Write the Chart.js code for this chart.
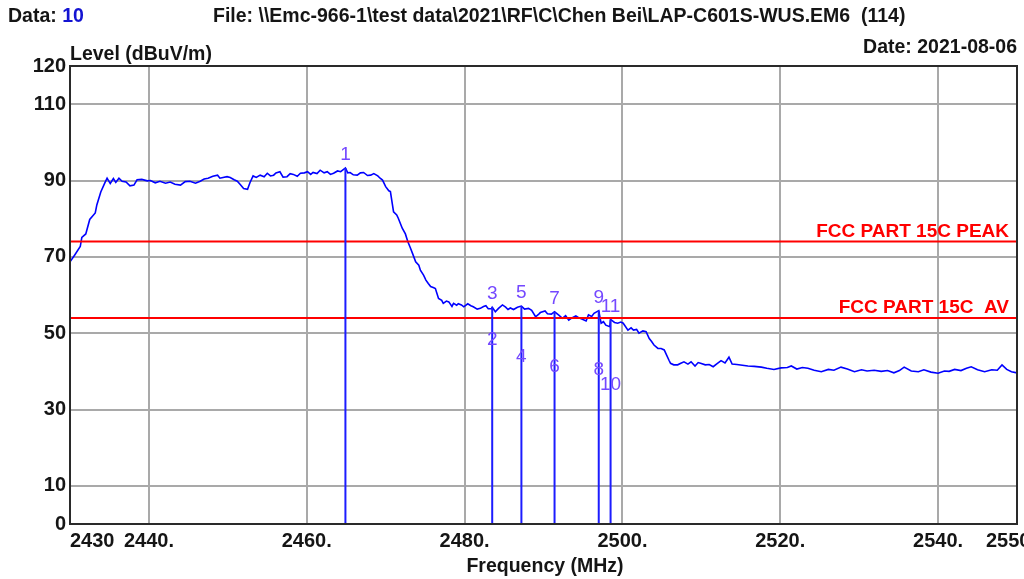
<!DOCTYPE html>
<html>
<head>
<meta charset="utf-8">
<script src="https://cdn.jsdelivr.net/npm/chart.js@4.4.1/dist/chart.umd.min.js"></script>
<style>
  html, body { margin: 0; padding: 0; background: #fff; }
  #wrap { width: 1024px; height: 579px; position: relative; }
</style>
</head>
<body>
<div id="wrap"><canvas id="c" width="1024" height="579"></canvas></div>
<script>
// Spectrum trace (MHz / dBuV/m)
const freq = [
  2430.0, 2430.6, 2431.3, 2431.5, 2432.0, 2432.5, 2433.2, 2433.4, 2433.9, 2434.4,
  2434.7, 2435.1, 2435.5, 2435.8, 2436.2, 2436.6, 2437.1, 2437.6, 2438.1, 2438.5,
  2439.1, 2439.8, 2440.2, 2440.8, 2441.4, 2442.1, 2442.7, 2443.3, 2444.0, 2444.6,
  2445.2, 2445.9, 2446.5, 2447.0, 2447.5, 2448.1, 2448.7, 2449.0, 2449.4, 2449.9,
  2450.3, 2450.8, 2451.2, 2451.6, 2452.0, 2452.5, 2452.8, 2453.2, 2453.6, 2454.1,
  2454.6, 2455.0, 2455.4, 2455.8, 2456.1, 2456.6, 2457.0, 2457.5, 2457.9, 2458.3,
  2458.8, 2459.2, 2459.7, 2460.1, 2460.5, 2460.8, 2461.3, 2461.7, 2462.2, 2462.6,
  2463.0, 2463.4, 2463.9, 2464.3, 2464.9, 2465.2, 2465.5, 2465.9, 2466.4, 2466.8,
  2467.2, 2467.7, 2468.1, 2468.5, 2469.0, 2469.3, 2469.6, 2470.0, 2470.4, 2470.6,
  2471.0, 2471.4, 2471.6, 2472.1, 2472.5, 2472.8, 2473.1, 2473.4, 2473.8, 2474.2,
  2474.4, 2474.8, 2475.1, 2475.4, 2475.7, 2476.1, 2476.3, 2476.7, 2477.1, 2477.3,
  2477.7, 2478.0, 2478.4, 2478.6, 2479.0, 2479.2, 2479.6, 2479.9, 2480.4, 2480.8,
  2481.1, 2481.6, 2482.0, 2482.4, 2482.7, 2483.0, 2483.4, 2483.5, 2483.9, 2484.3,
  2484.8, 2485.2, 2485.5, 2485.8, 2486.2, 2486.7, 2487.2, 2487.6, 2488.1, 2488.5,
  2489.0, 2489.4, 2489.6, 2490.2, 2490.5, 2491.0, 2491.4, 2491.9, 2492.4, 2492.8,
  2493.2, 2493.6, 2494.1, 2494.5, 2495.0, 2495.4, 2495.7, 2496.1, 2496.4, 2497.0,
  2497.3, 2497.6, 2497.9, 2498.4, 2498.5, 2499.0, 2499.4, 2499.8, 2500.1, 2500.7,
  2501.1, 2501.4, 2501.8, 2502.1, 2502.6, 2503.0, 2503.4, 2503.7, 2504.0, 2504.5,
  2504.9, 2505.3, 2505.5, 2505.9, 2506.1, 2506.5, 2507.0, 2507.4, 2507.8, 2508.3,
  2508.7, 2509.2, 2509.6, 2509.9, 2510.5, 2511.0, 2511.5, 2512.0, 2512.5, 2513.0,
  2513.5, 2513.9, 2514.5, 2515.2, 2515.9, 2516.7, 2517.6, 2518.3, 2519.2, 2520.1,
  2520.9, 2521.4, 2522.1, 2522.8, 2523.5, 2524.3, 2525.2, 2526.1, 2526.8, 2527.7,
  2528.5, 2529.4, 2530.3, 2531.0, 2531.9, 2532.8, 2533.6, 2534.4, 2535.1, 2535.7,
  2536.6, 2537.5, 2538.2, 2539.1, 2540.0, 2540.8, 2541.4, 2542.1, 2542.9, 2543.6,
  2544.2, 2545.0, 2545.9, 2546.8, 2547.5, 2548.1, 2548.7, 2549.3, 2550.0
];
const level = [
  68.7, 70.5, 72.7, 75.1, 76.0, 79.8, 81.5, 83.6, 87.0, 89.3,
  90.6, 89.2, 90.5, 89.5, 90.6, 89.8, 89.6, 88.6, 88.8, 90.2,
  90.3, 89.9, 90.0, 89.4, 89.8, 89.3, 89.6, 89.0, 88.8, 89.7,
  89.8, 89.3, 89.8, 90.4, 90.6, 91.1, 91.4, 90.6, 90.8, 91.0,
  90.8, 90.2, 89.8, 88.9, 87.9, 87.7, 89.4, 91.2, 90.8, 91.4,
  91.0, 91.9, 91.2, 91.4, 92.0, 92.3, 90.9, 91.0, 91.8, 91.6,
  91.1, 91.9, 92.0, 92.3, 91.6, 92.1, 91.8, 92.7, 92.0, 92.3,
  91.6, 91.9, 92.5, 92.3, 93.3, 92.0, 92.1, 91.5, 91.4, 92.0,
  92.1, 91.3, 91.4, 91.8, 91.2, 90.6, 90.1, 88.4, 87.3, 87.1,
  81.8, 81.0, 80.1, 77.5, 76.0, 74.0, 72.5, 70.9, 68.7, 67.8,
  66.5, 65.2, 63.9, 63.0, 62.2, 61.9, 61.7, 59.1, 58.6, 57.8,
  58.4, 58.2, 57.0, 57.8, 57.3, 57.7, 57.4, 56.9, 57.7, 57.2,
  56.9, 56.3, 56.5, 57.0, 57.2, 56.4, 56.4, 56.8, 55.6, 56.5,
  57.4, 56.8, 56.2, 56.6, 56.2, 56.8, 57.1, 56.3, 56.5, 56.0,
  54.3, 55.0, 55.4, 55.8, 55.1, 55.0, 55.6, 54.8, 53.9, 54.6,
  53.4, 54.0, 54.5, 54.0, 53.6, 53.2, 54.8, 54.4, 55.2, 55.9,
  52.6, 53.0, 52.1, 51.7, 53.6, 52.8, 52.6, 52.9, 52.6, 50.8,
  51.4, 50.8, 51.0, 50.0, 50.6, 50.4, 48.6, 47.8, 46.9, 46.0,
  46.0, 45.6, 44.7, 42.9, 42.1, 41.7, 41.7, 42.1, 42.5, 41.9,
  42.5, 41.4, 42.3, 42.1, 41.7, 41.8, 41.2, 42.0, 42.8, 42.2,
  43.7, 41.9, 41.8, 41.6, 41.4, 41.3, 41.1, 40.8, 40.5, 40.9,
  41.0, 41.4, 40.6, 41.0, 40.8, 40.3, 39.9, 40.5, 40.3, 41.1,
  40.6, 39.9, 40.4, 40.1, 40.3, 40.0, 40.2, 39.6, 40.2, 41.1,
  40.1, 39.9, 40.4, 39.8, 39.5, 40.1, 40.0, 40.5, 40.2, 40.8,
  41.2, 40.4, 39.9, 40.4, 40.3, 41.7, 40.5, 39.9, 39.6
];

const yTicks = [0, 10, 30, 50, 70, 90, 110, 120];
const xTicks = [2430, 2440, 2460, 2480, 2500, 2520, 2540, 2550];
const xTickLabels = ['2430', '2440.', '2460.', '2480.', '2500.', '2520.', '2540.', '2550'];

const limitLevels = [74, 54];
const limitLabels = ['FCC PART 15C PEAK', 'FCC PART 15C  AV'];

// peak markers (odd numbers) and average markers (even numbers)
const peakFreq = [2464.9, 2483.5, 2487.2, 2491.4, 2497.0, 2498.5];
const peakLevel = [93.3, 56.8, 57.1, 55.6, 55.9, 53.6];
const peakNames = ['1', '3', '5', '7', '9', '11'];
const avgFreq = [2483.5, 2487.2, 2491.4, 2497.0, 2498.5];
const avgLevel = [44.8, 40.3, 37.7, 36.9, 33.0];
const avgNames = ['2', '4', '6', '8', '10'];

const FONT = '"Liberation Sans", Arial, sans-serif';
const TEXT = '#151515';
const GRID = '#a9a9a9';

const datasets = [];
peakFreq.forEach((f, i) => {
  datasets.push({
    data: [{ x: f, y: 0 }, { x: f, y: peakLevel[i] }],
    borderColor: '#1c1cff', borderWidth: 2, pointRadius: 0, order: 1
  });
});
limitLevels.forEach(l => {
  datasets.push({
    data: [{ x: xTicks[0], y: l }, { x: xTicks[xTicks.length - 1], y: l }],
    borderColor: '#ff0000', borderWidth: 2, pointRadius: 0, order: 2
  });
});
datasets.push({
  data: freq.map((f, i) => ({ x: f, y: level[i] })),
  borderColor: '#0000ff', borderWidth: 1.6, pointRadius: 0, tension: 0, order: 3
});

const overlay = {
  id: 'overlay',
  afterDraw(chart) {
    const ctx = chart.ctx;
    const xs = chart.scales.x, ys = chart.scales.y;
    const area = chart.chartArea;
    ctx.save();

    // frame
    ctx.strokeStyle = '#2a2a2a';
    ctx.lineWidth = 2;
    ctx.strokeRect(area.left, area.top, area.right - area.left, area.bottom - area.top);

    // header
    ctx.font = 'bold 19.5px ' + FONT;
    ctx.textBaseline = 'alphabetic';
    ctx.textAlign = 'left';
    ctx.fillStyle = TEXT;
    ctx.fillText('Data: ', 8, 22);
    const w = ctx.measureText('Data: ').width;
    ctx.fillStyle = '#1414d2';
    ctx.fillText('10', 8 + w, 22);
    ctx.fillStyle = TEXT;
    ctx.fillText('File: \\\\Emc-966-1\\test data\\2021\\RF\\C\\Chen Bei\\LAP-C601S-WUS.EM6  (114)', 213, 22);
    ctx.fillText('Level (dBuV/m)', 70, 60);
    ctx.textAlign = 'right';
    ctx.fillText('Date: 2021-08-06', 1017, 53);
    ctx.textAlign = 'center';
    ctx.fillText('Frequency (MHz)', 545, 572);

    // x tick labels
    ctx.font = 'bold 20px ' + FONT;
    xTicks.forEach((v, i) => {
      const px = xs.getPixelForValue(v);
      if (i === 0) { ctx.textAlign = 'left'; ctx.fillText(xTickLabels[i], px, 547); }
      else if (i === xTicks.length - 1) { ctx.textAlign = 'left'; ctx.fillText(xTickLabels[i], px - 31, 547); }
      else { ctx.textAlign = 'center'; ctx.fillText(xTickLabels[i], px, 547); }
    });

    // limit labels
    ctx.font = 'bold 19px ' + FONT;
    ctx.fillStyle = '#ff0000';
    ctx.textAlign = 'right';
    limitLevels.forEach((l, i) => {
      ctx.fillText(limitLabels[i], 1009, ys.getPixelForValue(l) - 5);
    });

    // marker labels
    ctx.font = '19px ' + FONT;
    ctx.fillStyle = '#7448ff';
    ctx.textAlign = 'center';
    ctx.textBaseline = 'middle';
    peakFreq.forEach((f, i) => {
      ctx.fillText(peakNames[i], xs.getPixelForValue(f), ys.getPixelForValue(peakLevel[i]) - 13);
    });
    avgFreq.forEach((f, i) => {
      ctx.fillText(avgNames[i], xs.getPixelForValue(f), ys.getPixelForValue(avgLevel[i]) - 13);
    });
    ctx.restore();
  }
};

new Chart(document.getElementById('c'), {
  type: 'line',
  data: { datasets: datasets },
  options: {
    responsive: false,
    animation: false,
    devicePixelRatio: 1,
    layout: { padding: { top: 66, right: 7, bottom: 55, left: 0 } },
    plugins: { legend: { display: false }, tooltip: { enabled: false } },
    scales: {
      x: {
        type: 'linear', min: 2430, max: 2550,
        afterBuildTicks: s => { s.ticks = xTicks.map(v => ({ value: v })); },
        afterFit: s => { s.height = 0; },
        ticks: { display: false },
        grid: { color: GRID, lineWidth: 2, drawTicks: false },
        border: { color: '#2a2a2a', width: 2 }
      },
      y: {
        min: 0, max: 120,
        afterBuildTicks: s => { s.ticks = yTicks.map(v => ({ value: v })); },
        afterFit: s => { s.width = 70; },
        ticks: { color: TEXT, font: { family: FONT, size: 20, weight: 'bold' }, padding: 4 },
        grid: { color: GRID, lineWidth: 2, drawTicks: false },
        border: { color: '#2a2a2a', width: 2 }
      }
    }
  },
  plugins: [overlay]
});
</script>
</body>
</html>
